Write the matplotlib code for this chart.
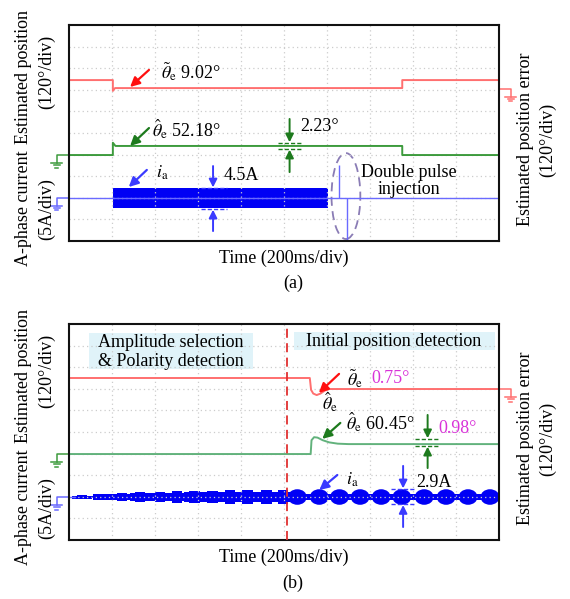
import matplotlib
matplotlib.use("Agg")
import matplotlib.pyplot as plt
from matplotlib.patches import Ellipse, Rectangle
import numpy as np

plt.rcParams["font.family"] = ["Liberation Serif", "DejaVu Serif"]
plt.rcParams["mathtext.fontset"] = "stix"
plt.rcParams["font.size"] = 13

# all values in scope divisions (10 x 10 grid, y counted from the bottom)
# ---- panel (a)
a_err_t = [0, 1.02, 1.02, 1.07, 7.75, 7.75, 10]
a_err_v = [7.45, 7.45, 6.95, 7.08, 7.08, 7.45, 7.45]
a_pos_t = [0, 1.02, 1.02, 1.08, 7.75, 7.75, 10]
a_pos_v = [3.98, 3.98, 4.55, 4.40, 4.40, 3.98, 3.98]
a_cur_base = 2.0
a_cur_block = [1.02, 6.03]       # start / end of the HF injection
a_cur_amp = 0.46                 # half height of the block (4.5 A)
a_pulse_t = [6.28, 6.46]         # double pulse injection
a_pulse_v = [3.52, 0.05]
a_err_gnd = 7.04
a_pos_gnd = 3.98

# ---- panel (b)
b_err_t = [0, 5.60, 5.63, 5.68, 5.76, 5.85, 5.95, 6.05, 10]
b_err_v = [7.50, 7.50, 6.95, 6.78, 6.71, 6.78, 6.92, 6.99, 6.99]
b_pos_t = [0, 5.62, 5.64, 5.70, 5.78, 5.90, 6.05, 6.25, 6.50, 10]
b_pos_v = [3.98, 3.98, 4.62, 4.76, 4.74, 4.62, 4.52, 4.46, 4.44, 4.44]
b_cur_base = 1.99
b_switch = 5.07                  # polarity detection -> position detection
b_blk_x = [0.30, 0.79, 1.23, 1.65, 2.11, 2.51, 2.92, 3.34, 3.74, 4.15, 4.59, 4.97]
b_blk_peak = [0.09, 0.15, 0.20, 0.23, 0.25, 0.28, 0.29, 0.30, 0.31, 0.31, 0.32, 0.33]
b_blk_shld = [0.07, 0.12, 0.15, 0.17, 0.19, 0.20, 0.21, 0.22, 0.23, 0.24, 0.24, 0.25]
b_bead_x = [5.31, 5.82, 6.29, 6.77, 7.26, 7.74, 8.26, 8.77, 9.28, 9.79]
b_bead_amp = 0.36
b_neck_amp = 0.125
b_err_gnd = 6.99
b_pos_gnd = 3.98

RED = "#ff6f6f"
GRN_A = "#3d9b3d"
GRN_B = "#62b27c"
DGRN = "#1d7a1d"
BLUE = "#0000f5"
LBLUE = "#6a6aff"
ABLUE = "#3a3aff"
MAG = "#d932d9"
W, H = 570, 599


def px(x, y):
    return x / W, 1 - y / H


def scope_axes(fig, top):
    ax = fig.add_axes([69 / W, 1 - (top + 216) / H, 430 / W, 216 / H])
    ax.set_xlim(0, 10)
    ax.set_ylim(0, 10)
    ax.set_xticks(np.arange(1, 10))
    ax.set_yticks(np.arange(1, 10))
    ax.grid(color="#cccccc", linestyle=(0, (1, 2.5)), lw=0.9)
    ax.tick_params(length=0, labelbottom=False, labelleft=False)
    for s in ax.spines.values():
        s.set_linewidth(1.5)
        s.set_color("#111111")
    return ax


def ground(ax, y, color, side):
    if side == "left":
        x0, x1 = 0, -0.29
    else:
        x0, x1 = 10, 10.27
    kw = dict(color=color, lw=1.1, clip_on=False)
    ax.plot([x0, x1, x1], [y, y, y - 0.36], **kw)
    for dy, hw in [(0.36, 0.12), (0.47, 0.07), (0.58, 0.03)]:
        ax.plot([x1 - hw, x1 + hw], [y - dy, y - dy], **kw)


def arrow(ax, tail, head, color, lw=1.6, ms=14):
    ax.annotate("", xy=head, xytext=tail,
                arrowprops=dict(arrowstyle="-|>", color=color, lw=lw,
                                mutation_scale=ms, shrinkA=0, shrinkB=0))


def dim(ax, x, top, bot, hi, lo, x0, x1, color):
    arrow(ax, (x, top), (x, hi + 0.03), color, lw=1.4, ms=12)
    arrow(ax, (x, bot), (x, lo - 0.03), color, lw=1.4, ms=12)
    for yy in (hi, lo):
        ax.plot([x0, x1], [yy, yy], color=color, lw=1.0, ls=(0, (3, 1.5)))


def side_labels(fig, top):
    fig.text(*px(24, top + 52), "Estimated position", rotation=90, ha="center", va="center")
    fig.text(*px(24, top + 183), "A-phase current", rotation=90, ha="center", va="center")
    fig.text(*px(47, top + 47), "(120°/div)", rotation=90, ha="center", va="center")
    fig.text(*px(47, top + 184), "(5A/div)", rotation=90, ha="center", va="center")
    fig.text(*px(525, top + 114), "Estimated position error", rotation=90, ha="center", va="center")
    fig.text(*px(548, top + 115), "(120°/div)", rotation=90, ha="center", va="center")
    fig.text(*px(284, top + 233), "Time (200ms/div)", ha="center", va="center")


fig = plt.figure(figsize=(W / 100, H / 100), dpi=100)

# ================= panel (a)
ax = scope_axes(fig, 25)
ax.plot(a_err_t, a_err_v, color=RED, lw=1.4)
ax.plot(a_pos_t, a_pos_v, color=GRN_A, lw=1.4)
ax.axhline(a_cur_base, color=LBLUE, lw=1.0)
ax.fill_between(a_cur_block, a_cur_base - a_cur_amp, a_cur_base + a_cur_amp,
                color=BLUE, lw=0)
ax.vlines(a_pulse_t, a_cur_base, a_pulse_v, color=LBLUE, lw=1.0)
ax.add_patch(Ellipse((6.44, 2.08), 0.67, 3.98, fill=False, ec="#8a7cb5",
                     lw=1.3, ls=(0, (5, 3))))
ground(ax, a_err_gnd, RED, "right")
ground(ax, a_pos_gnd, GRN_A, "left")
ground(ax, a_cur_base, LBLUE, "left")

arrow(ax, (1.86, 7.92), (1.42, 7.13), "#ff1010")
ax.text(2.14, 7.82, r"$\tilde{\theta}_\mathrm{e}$ 9.02°", va="center")
arrow(ax, (1.86, 5.23), (1.42, 4.40), DGRN)
ax.text(1.94, 5.17, r"$\hat{\theta}_\mathrm{e}$ 52.18°", va="center")
arrow(ax, (1.81, 3.29), (1.39, 2.50), ABLUE)
ax.text(2.02, 3.15, r"$i_\mathrm{a}$", va="center")

dim(ax, 5.13, 5.65, 3.19, 4.54, 4.26, 4.85, 5.43, DGRN)
ax.text(5.38, 5.28, "2.23°", va="center")
dim(ax, 3.35, 3.47, 0.46, 2.45, 1.48, 3.07, 3.67, ABLUE)
ax.text(3.60, 3.02, "4.5A", va="center")
ax.text(7.91, 2.78, "Double pulse\ninjection", ha="center", va="center",
        linespacing=1.05)

side_labels(fig, 25)
fig.text(*px(293, 283), "(a)", ha="center", va="center")

# ================= panel (b)
ax = scope_axes(fig, 324)
ax.add_patch(Rectangle((0.46, 7.92), 3.81, 1.66, fc="#e0f3f9", ec="none", zorder=1))
ax.add_patch(Rectangle((5.24, 8.80), 4.67, 0.83, fc="#e0f3f9", ec="none", zorder=1))
ax.text(2.37, 8.70, "Amplitude selection\n& Polarity detection", ha="center",
        va="center", linespacing=1.1, zorder=3)
ax.text(7.56, 9.21, "Initial position detection", ha="center", va="center", zorder=3)

ax.plot(b_err_t, b_err_v, color=RED, lw=1.4)
ax.plot(b_pos_t, b_pos_v, color=GRN_B, lw=1.4)
ax.plot([0, 0.15], [b_cur_base, b_cur_base], color=LBLUE, lw=1.0)
ax.fill_between([0.08, b_switch], b_cur_base - 0.05, b_cur_base + 0.05,
                color=BLUE, lw=0)
shld = np.array(b_blk_shld)
peak = np.array(b_blk_peak)
ax.bar(b_blk_x, 2 * shld, width=0.47, bottom=b_cur_base - shld, color=BLUE, lw=0)
ax.bar(b_blk_x, 2 * peak, width=0.24, bottom=b_cur_base - peak, color=BLUE, lw=0)
ax.fill_between([b_switch, 10], b_cur_base - b_neck_amp, b_cur_base + b_neck_amp,
                color=BLUE, lw=0)
for cx in b_bead_x:
    ax.add_patch(Ellipse((cx, b_cur_base), 0.44, 2 * b_bead_amp, fc=BLUE, ec="none"))
ax.axvline(b_switch, color="#e03030", lw=1.3, ls=(0, (5, 3)), zorder=4)
ground(ax, b_err_gnd, RED, "right")
ground(ax, b_pos_gnd, GRN_A, "left")
ground(ax, b_cur_base, LBLUE, "left")

arrow(ax, (6.28, 7.69), (5.81, 6.81), "#ff1010")
ax.text(6.47, 7.48, r"$\tilde{\theta}_\mathrm{e}$", va="center")
ax.text(7.03, 7.48, "0.75°", va="center", color=MAG)
ax.text(5.89, 6.39, r"$\hat{\theta}_\mathrm{e}$", va="center")
arrow(ax, (6.31, 5.42), (5.89, 4.68), DGRN)
ax.text(6.45, 5.44, r"$\hat{\theta}_\mathrm{e}$ 60.45°", va="center")
dim(ax, 8.34, 5.79, 3.33, 4.68, 4.35, 8.05, 8.63, DGRN)
ax.text(8.58, 5.17, "0.98°", va="center", color=MAG)
arrow(ax, (6.24, 3.01), (5.82, 2.31), ABLUE)
ax.text(6.45, 2.78, r"$i_\mathrm{a}$", va="center")
dim(ax, 7.77, 3.43, 0.60, 2.36, 1.65, 7.49, 8.07, ABLUE)
ax.text(8.07, 2.64, "2.9A", va="center")

side_labels(fig, 324)
fig.text(*px(293, 583), "(b)", ha="center", va="center")

fig.savefig("out.png", dpi=100)
